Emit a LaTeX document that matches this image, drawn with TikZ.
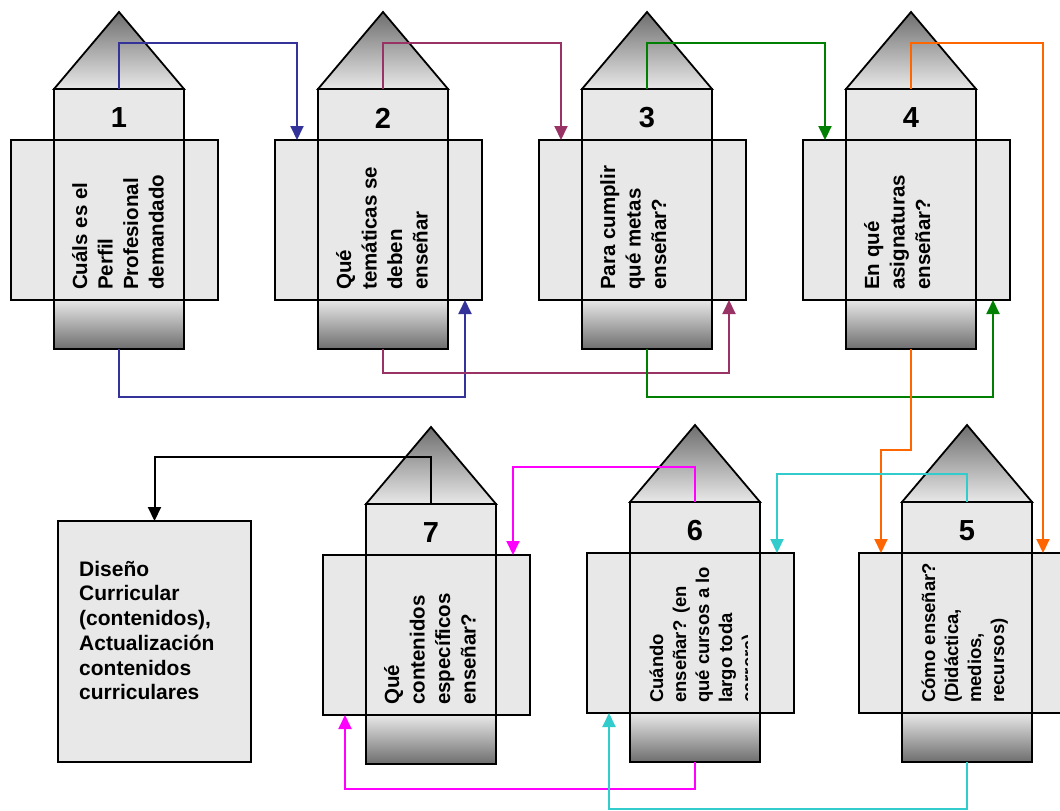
\documentclass[tikz,border=0pt]{standalone}
\usepackage{fontspec}
\setmainfont{Liberation Sans}
\usetikzlibrary{arrows.meta,calc}

\definecolor{paper}{HTML}{E8E8E8}
\definecolor{shadedark}{HTML}{6E6E6E}
\definecolor{lnblue}{HTML}{333399}
\definecolor{lnpurple}{HTML}{993366}
\definecolor{lngreen}{HTML}{008000}
\definecolor{lnorange}{HTML}{FF6600}
\definecolor{lncyan}{HTML}{33CCCC}
\definecolor{lnmagenta}{HTML}{FF00FF}

\tikzset{
  outline/.style={draw=black, line width=1.8pt},
  bodybox/.style={rectangle, fill=paper, inner sep=0pt, outer sep=0pt,
    minimum width=130pt, minimum height=260pt, anchor=north west},
  crossbox/.style={rectangle, outline, fill=paper, inner sep=0pt, outer sep=0pt,
    minimum width=207pt, minimum height=160pt, anchor=north west},
  footbox/.style={rectangle, outline, top color=paper, bottom color=shadedark,
    inner sep=0pt, outer sep=0pt, minimum width=130pt, minimum height=49pt, anchor=north west},
  numtext/.style={inner sep=0pt, font=\bfseries\fontsize{29}{29}\selectfont},
  sidetext/.style={rotate=90, anchor=north west, align=left, inner sep=0pt,
    font=\bfseries\fontsize{20.5}{25.5}\selectfont},
  sidetextsmall/.style={rotate=90, anchor=north west, align=left, inner sep=0pt,
    font=\bfseries\fontsize{18.5}{23}\selectfont},
  finalbox/.style={rectangle, outline, fill=paper, inner sep=0pt, outer sep=0pt,
    minimum width=193pt, minimum height=241pt, anchor=north west},
  finaltext/.style={anchor=north west, align=left, inner sep=0pt,
    font=\bfseries\fontsize{21}{24.7}\selectfont},
  conn/.style={line width=2pt, -{Triangle[length=14pt,width=13pt]}},
}

% pencil: #1 name, #2 left edge of the shaft, #3 top of the shaft, #4 number
\newcommand\pencil[4]{%
  \node[bodybox] (#1b) at (#2,#3) {};
  \node[crossbox] (#1c) at (#2-43,#3+51) {};
  \draw[outline] (#1b.north west) rectangle (#1b.south east);
  \node[footbox] (#1f) at (#2,#3+211) {};
  \shade[top color=shadedark, bottom color=paper, outline]
    (#2,#3) -- (#2+65,#3-77) -- (#2+130,#3) -- cycle;
  \node[numtext] (#1n) at (#2+65,#3+29) {#4};
  \coordinate (#1-tl) at (#2-21,#3+51);
  \coordinate (#1-tr) at (#2+147,#3+51);
  \coordinate (#1-bl) at (#2-21,#3+211);
  \coordinate (#1-br) at (#2+147,#3+211);
}

\begin{document}
\begin{tikzpicture}[x=1pt, y=-1pt]
\clip (0,0) rectangle (1060,811);
\fill[white] (0,0) rectangle (1060,811);

% top row
\pencil{p1}{54}{89}{1}
\pencil{p2}{318}{89}{2}
\pencil{p3}{582}{89}{3}
\pencil{p4}{846}{89}{4}
% bottom row
\pencil{p7}{366}{504}{7}
\pencil{p6}{630}{502}{6}
\pencil{p5}{902}{502}{5}

% rotated captions
\node[sidetext] (p1t) at (54+17,290) {\rule{0pt}{16pt}Cuáls es el\\Perfil\\Profesional\\demandado};
\node[sidetext] (p2t) at (318+17,290) {\rule{0pt}{16pt}Qué\\temáticas se\\deben\\enseñar};
\node[sidetext] (p3t) at (582+17,290) {\rule{0pt}{16pt}Para cumplir\\qué metas\\enseñar?};
\node[sidetext] (p4t) at (846+17,290) {\rule{0pt}{16pt}En qué\\asignaturas\\enseñar?};
\node[sidetext] (p7t) at (366+17,705) {\rule{0pt}{16pt}Qué\\contenidos\\específicos\\enseñar?};
\begin{scope}
  \clip (630,540) rectangle (747,720);
  \node[sidetextsmall] (p6t) at (630+19,703) {\rule{0pt}{14pt}Cuándo\\enseñar? (en\\qué cursos a lo\\largo toda\\carrera)};
\end{scope}
\node[sidetextsmall] (p5t) at (902+19,703) {\rule{0pt}{14pt}Cómo enseñar?\\(Didáctica,\\medios,\\recursos)};

% final box
\node[finalbox] (dis) at (58,521) {};
\node[finaltext] (dist) at (79,576-16) {\rule{0pt}{16pt}Diseño\\Curricular\\(contenidos),\\Actualización\\contenidos\\curriculares};

% rails for the connectors
\coordinate (railtop) at (0,43);
\coordinate (railpurple) at (0,373);
\coordinate (railblue) at (0,397);
\coordinate (railorange) at (0,450);
\coordinate (railblack) at (0,457);
\coordinate (railmagtop) at (0,467);
\coordinate (railcyantop) at (0,474);
\coordinate (railmagbot) at (0,789);
\coordinate (railcyanbot) at (0,809);

% connectors
\draw[conn, lnblue] (p1b.north) -- (p1b.north |- railtop) -| (p2-tl);
\draw[conn, lnblue] (p1b.south) -- (p1b.south |- railblue) -| (p2-br);
\draw[conn, lnpurple] (p2b.north) -- (p2b.north |- railtop) -| (p3-tl);
\draw[conn, lnpurple] (p2b.south) -- (p2b.south |- railpurple) -| (p3-br);
\draw[conn, lngreen] (p3b.north) -- (p3b.north |- railtop) -| (p4-tl);
\draw[conn, lngreen] (p3b.south) -- (p3b.south |- railblue) -| (p4-br);
\draw[conn, lnorange] (p4b.north) -- (p4b.north |- railtop) -| ([xshift=-6pt]p5-tr);
\draw[conn, lnorange] (p4b.south) -- (p4b.south |- railorange) -| (p5-tl);
\draw[conn, lncyan] (p5b.north) -- (p5b.north |- railcyantop) -| (p6-tr);
\draw[conn, lnmagenta] (p6b.south) -- (p6b.south |- railmagbot) -| (p7-bl);
\draw[conn, lncyan] (p5b.south) -- (p5b.south |- railcyanbot) -| (p6-bl);
\draw[conn, lnmagenta] (p6b.north) -- (p6b.north |- railmagtop) -| (p7-tr);
\draw[conn, black] (p7b.north) -- (p7b.north |- railblack) -| (dis.north);
\end{tikzpicture}
\end{document}
